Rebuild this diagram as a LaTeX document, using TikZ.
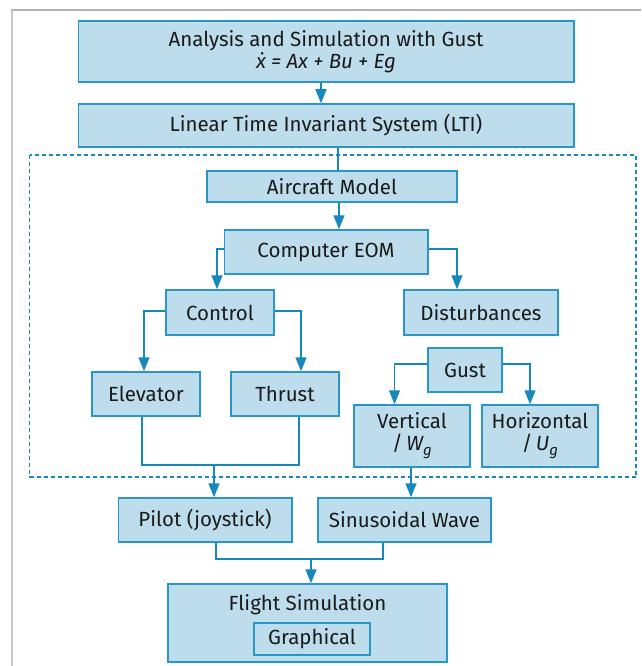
\documentclass[tikz,border=0pt]{standalone}
\usepackage{fontspec}
\setmainfont{Fira Sans}
\usetikzlibrary{arrows.meta}
\definecolor{boxfill}{HTML}{BDDDEC}
\definecolor{boxline}{HTML}{2A96C6}
\definecolor{flow}{HTML}{1688BC}
\definecolor{framegrey}{HTML}{B4B4B4}
\definecolor{ink}{HTML}{1A1A1A}
\newcommand\subg{\raisebox{-0.45ex}{\fontsize{15}{15}\selectfont g}}
% x followed by a combining dot above
\newcommand\xdotted{x\char"0307\relax}
\tikzset{
  blk/.style={draw=boxline, fill=boxfill, line width=1.5pt, inner sep=0pt,
    text=ink, font=\fontsize{20.5}{23}\selectfont, align=center},
  wire/.style={draw=flow, line width=1.5pt},
  arr/.style={wire, -{Triangle[length=14pt,width=11pt]}},
  groupbox/.style={draw=flow, line width=1.2pt, dash pattern=on 4pt off 3pt}
}
\begin{document}
\begin{tikzpicture}[x=1pt,y=-1pt]
\useasboundingbox (0,0) rectangle (641,666);
% outer frame
\draw[framegrey!70, line width=2pt] (12,666) -- (12,10);
\draw[framegrey, line width=2pt] (11,10) -- (641,10);

% dashed group around the aircraft model
\draw[groupbox] (29.5,155) rectangle (636,477);

\node[blk, minimum width=495.5pt, minimum height=61pt] (top) at (326,51.5)
  {Analysis and Simulation with Gust\\[-1pt]\itshape \xdotted\ = Ax + Bu + Eg};
\node[blk, minimum width=495.5pt, minimum height=43pt] (lti) at (326,125.5)
  {Linear Time Invariant System (LTI)};
\node[blk, minimum width=250pt, minimum height=31pt] (aircraft) at (332,186.5)
  {Aircraft Model};
\node[blk, minimum width=203.5pt, minimum height=44pt] (eom) at (326,252)
  {Computer EOM};
\node[blk, minimum width=108pt, minimum height=45pt] (control) at (220,312.5)
  {Control};
\node[blk, minimum width=154pt, minimum height=45pt] (dist) at (481,312.5)
  {Disturbances};
\node[blk, minimum width=108pt, minimum height=44pt] (elevator) at (146,394)
  {Elevator};
\node[blk, minimum width=108pt, minimum height=44pt] (thrust) at (285,394)
  {Thrust};
\node[blk, minimum width=74pt, minimum height=44pt] (gust) at (465,370)
  {Gust};
\node[blk, minimum width=116pt, minimum height=62pt] (vertical) at (412,436)
  {Vertical\\[-1pt]/\,{\itshape W\subg}};
\node[blk, minimum width=116pt, minimum height=62pt] (horizontal) at (540,436)
  {Horizontal\\[-1pt]/\,{\itshape U\subg}};
\node[blk, minimum width=173.5pt, minimum height=44pt] (pilot) at (205,520)
  {Pilot (joystick)};
\node[blk, minimum width=173pt, minimum height=44pt] (sine) at (404.5,520)
  {Sinusoidal Wave};
\node[blk, minimum width=279pt, minimum height=78pt] (flight) at (307.5,623) {};
\node[text=ink, font=\fontsize{20.5}{23}\selectfont] (flightlabel) at (307.5,605)
  {Flight Simulation};
\node[blk, minimum width=116pt, minimum height=32pt] (graphical) at (312,639)
  {Graphical};

% connectors
\draw[arr] ([xshift=-5pt]top.south) -- ([xshift=-5pt]lti.north);
\draw[wire] ([xshift=12pt]lti.south) -- ([xshift=6pt]aircraft.north);
\draw[arr] ([xshift=7pt]aircraft.south) -- ([xshift=13pt]eom.north);
\draw[arr] ([yshift=3pt]eom.west) -| ([xshift=-3pt]control.north);
\draw[arr] ([yshift=3pt]eom.east) -| ([xshift=-24pt]dist.north);
\draw[arr] ([yshift=1.5pt]control.west) -| ([xshift=-2pt]elevator.north);
\draw[arr] ([yshift=1.5pt]control.east) -| ([xshift=16pt]thrust.north);
\draw[arr] ([yshift=6pt]gust.west) -| ([xshift=-17.5pt]vertical.north);
\draw[arr] ([yshift=6pt]gust.east) -| ([xshift=-10pt]horizontal.north);

\coordinate (joinA) at (214,465);
\draw[wire] ([xshift=-4pt]elevator.south) |- (joinA)
  -| ([xshift=14pt]thrust.south);
\draw[arr] (joinA) -- (joinA |- pilot.north);
\draw[arr] ([xshift=-1pt]vertical.south) -- ([xshift=6.5pt]sine.north);

\coordinate (joinB) at (311,559);
\draw[wire] ([xshift=11pt]pilot.south) |- (joinB)
  -| ([xshift=-21.5pt]sine.south);
\draw[arr] (joinB) -- (joinB |- flight.north);
\end{tikzpicture}
\end{document}
